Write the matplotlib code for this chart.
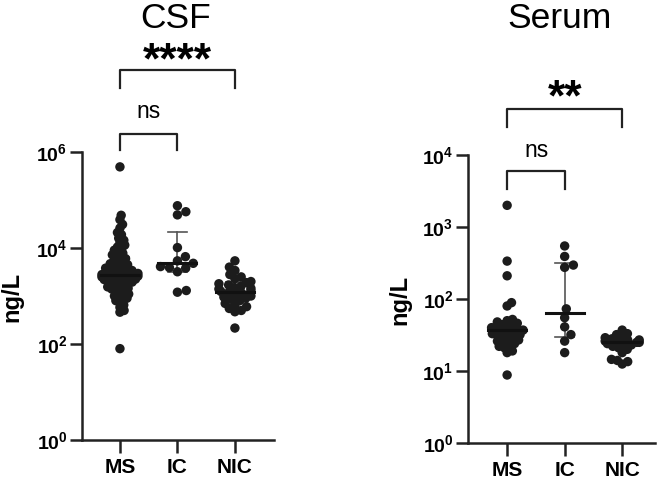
import numpy as np
import matplotlib.pyplot as plt
from matplotlib.ticker import FixedLocator, NullLocator

plt.rcParams['font.family'] = ['Liberation Sans', 'DejaVu Sans']
plt.rcParams['mathtext.fontset'] = 'custom'
plt.rcParams['mathtext.rm'] = 'Liberation Sans'
plt.rcParams['mathtext.bf'] = 'Liberation Sans:bold'
plt.rcParams['mathtext.it'] = 'Liberation Sans:italic'

groups = ['MS', 'IC', 'NIC']

# CSF values (ng/L)
csf_ms = [490000, 48000, 39000, 31000, 26000, 21000, 19000, 16000, 14500, 13000,
          11500, 10500, 9800, 9000, 8400, 7800, 7200, 6800, 6400, 6000, 5600,
          5300, 5000, 4700, 4500, 4300, 4100, 3900, 3800, 3600, 3500, 3400, 3300,
          3200, 3100, 3000, 2950, 2900, 2800, 2750, 2700, 2600, 2550, 2500, 2450,
          2400, 2300, 2250, 2200, 2100, 2050, 2000, 1950, 1900, 1800, 1750, 1700,
          1600, 1550, 1500, 1450, 1400, 1300, 1250, 1200, 1100, 1050, 1000, 950,
          900, 850, 800, 720, 650, 580, 500, 460, 80]
csf_ic = [76000, 57000, 49000, 10200, 6600, 5400, 4800, 4100, 3900, 3800, 3200,
          1300, 1200]
csf_nic = [5400, 4000, 3400, 2800, 2500, 2300, 2000, 1900, 1800, 1700, 1600,
           1500, 1450, 1400, 1300, 1250, 1200, 1150, 1100, 1000, 950, 900, 850,
           800, 700, 650, 600, 550, 500, 470, 215]
# median, lower, upper
csf_med = [2750, 4800, 1230]
csf_lo = [1300, 3200, 800]
csf_hi = [6600, 22000, 2000]

# Serum values (ng/L)
serum_ms = [2000, 336, 210, 89, 80, 52, 50, 48, 46, 44, 42, 41, 40, 39, 38, 37,
            36, 35, 34, 33, 32, 31, 30, 29, 28, 27, 26, 25, 24, 23, 22, 21, 19,
            18, 8.8]
serum_ic = [545, 390, 296, 275, 73, 55, 41, 32, 26, 18]
serum_nic = [37, 33, 32, 30, 29, 28, 27, 27, 26, 26, 25, 25, 24, 24, 23, 22, 21,
             20, 18, 14.5, 14, 13.5, 12.5]
serum_med = [37, 63, 25]
serum_lo = [28, 30, 20]
serum_hi = [46, 313, 28]

fig = plt.figure(figsize=(6.61, 4.8), dpi=100)
ax1 = fig.add_axes([82/661, 40/480, 192/661, 288/480])
ax2 = fig.add_axes([468/661, 37/480, 187/661, 288/480])


def setup(ax, top_exp, step, xlim):
    ax.set_yscale('log')
    ax.set_ylim(1, 10**top_exp)
    ax.set_xlim(*xlim)
    exps = list(range(0, top_exp + 1, step))
    ax.yaxis.set_major_locator(FixedLocator([10.0**e for e in exps]))
    ax.yaxis.set_minor_locator(NullLocator())
    ax.set_yticklabels([r'$\mathbf{10^{%d}}$' % e for e in exps], fontsize=14)
    ax.set_xticks([0, 1, 2])
    ax.set_xticklabels(groups, fontsize=15, fontweight='bold')
    for s in ['top', 'right']:
        ax.spines[s].set_visible(False)
    for s in ['left', 'bottom']:
        ax.spines[s].set_linewidth(1.8)
        ax.spines[s].set_color('#222222')
    ax.tick_params(length=9, width=1.8, direction='out', pad=1.5, color='#222222')
    ax.tick_params(axis='x', pad=4)


def swarm(ax, x0, vals, d, maxw):
    vals = np.asarray(vals, dtype=float)
    ys = ax.transData.transform(np.column_stack([np.full(len(vals), x0), vals]))[:, 1]
    ppu = ax.transData.transform([[1, 1]])[0, 0] - ax.transData.transform([[0, 1]])[0, 0]
    order = np.argsort(ys)
    placed = []
    offs = np.zeros(len(vals))
    for i in order:
        y = ys[i]
        cands = [0.0]
        for px, py in placed:
            dy = y - py
            if abs(dy) < d:
                dx = np.sqrt(d * d - dy * dy)
                cands += [px + dx, px - dx]
        cands.sort(key=abs)
        pick = cands[-1]
        for c in cands:
            if all((c - px) ** 2 + (y - py) ** 2 >= d * d - 1e-6 for px, py in placed):
                pick = c
                break
        pick = float(np.clip(pick, -maxw, maxw))
        offs[i] = pick
        placed.append((pick, y))
    ax.scatter(x0 + offs / ppu, vals, s=46, c='#1c1c1c', edgecolors='none',
               zorder=2, clip_on=False)


def summary(ax, med, lo, hi):
    for i in range(3):
        ax.plot([i, i], [lo[i], hi[i]], color='#555555', lw=1.2, zorder=1)
        ax.plot([i - 0.16, i + 0.16], [hi[i], hi[i]], color='#555555', lw=1.2, zorder=1)
        ax.plot([i - 0.16, i + 0.16], [lo[i], lo[i]], color='#555555', lw=1.2, zorder=1)
        ax.plot([i - 0.33, i + 0.33], [med[i], med[i]], color='#111111', lw=2.2, zorder=3)


def bracket(ax, x1, x2, ylo, yhi):
    ax.plot([x1, x1, x2, x2], [ylo, yhi, yhi, ylo], color='#222222', lw=1.6,
            transform=ax.get_xaxis_transform(), clip_on=False)


# CSF panel
setup(ax1, 6, 2, (-0.66, 2.68))
swarm(ax1, 0, csf_ms, 4.5, 18)
swarm(ax1, 1, csf_ic, 9.0, 18)
swarm(ax1, 2, csf_nic, 6.5, 16)
summary(ax1, csf_med, csf_lo, csf_hi)
bracket(ax1, 0, 2, 1.222, 1.285)
bracket(ax1, 0, 1, 1.007, 1.0625)
tr1 = ax1.get_xaxis_transform()
ax1.text(1.0, 1.274, '****', transform=tr1, ha='center', va='baseline',
         fontsize=32, fontweight='bold')
ax1.text(0.5, 1.118, 'ns', transform=tr1, ha='center', va='baseline', fontsize=16.5)
ax1.text(0.96, 1.431, 'CSF', transform=tr1, ha='center', va='baseline', fontsize=25.5)

# Serum panel
setup(ax2, 4, 1, (-0.68, 2.57))
swarm(ax2, 0, serum_ms, 5.5, 16)
swarm(ax2, 1, serum_ic, 9.0, 16)
swarm(ax2, 2, serum_nic, 6.0, 17)
summary(ax2, serum_med, serum_lo, serum_hi)
bracket(ax2, 0, 2, 1.097, 1.160)
bracket(ax2, 0, 1, 0.882, 0.944)
tr2 = ax2.get_xaxis_transform()
ax2.text(1.0, 1.156, '**', transform=tr2, ha='center', va='baseline',
         fontsize=32, fontweight='bold')
ax2.text(0.51, 0.993, 'ns', transform=tr2, ha='center', va='baseline', fontsize=16.5)
ax2.text(0.92, 1.441, 'Serum', transform=tr2, ha='center', va='baseline', fontsize=25.5)

fig.text(12/661, 1 - 297/480, 'ng/L', rotation=90, ha='center', va='center',
         fontsize=17, fontweight='bold')
fig.text(400/661, 1 - 300/480, 'ng/L', rotation=90, ha='center', va='center',
         fontsize=17, fontweight='bold')

fig.savefig('out.png', dpi=100)
